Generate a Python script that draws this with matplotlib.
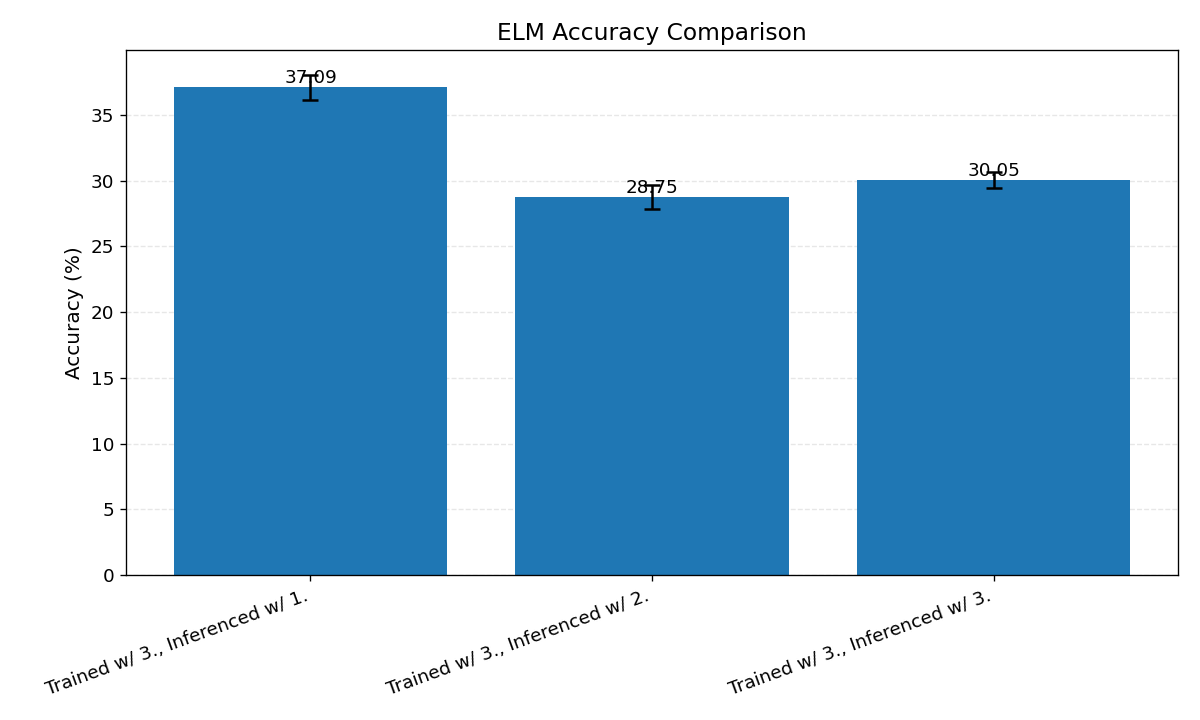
import matplotlib
matplotlib.use("Agg")
import matplotlib.pyplot as plt

categories = ["Trained w/ 3., Inferenced w/ 1.",
              "Trained w/ 3., Inferenced w/ 2.",
              "Trained w/ 3., Inferenced w/ 3."]
accuracy = [37.09, 28.75, 30.05]
errors = [0.95, 0.9, 0.6]

fig, ax = plt.subplots(figsize=(10, 6), dpi=120)
bars = ax.bar(categories, accuracy, yerr=errors, capsize=5, color="#1f77b4",
              error_kw=dict(elinewidth=1.5, capthick=1.5, ecolor="black"))
for b, v in zip(bars, accuracy):
    ax.text(b.get_x() + b.get_width() / 2, v, f"{v:.2f}", ha="center", va="bottom", fontsize=11)
ax.set_title("ELM Accuracy Comparison", fontsize=14)
ax.set_ylabel("Accuracy (%)", fontsize=12)
ax.tick_params(axis="both", labelsize=11)
plt.setp(ax.get_xticklabels(), rotation=20, ha="right")
ax.yaxis.grid(True, linestyle="--", alpha=0.3)
ax.set_axisbelow(True)
fig.subplots_adjust(left=0.105, right=0.9817, top=0.9306, bottom=0.2014)
fig.savefig("out.png")
